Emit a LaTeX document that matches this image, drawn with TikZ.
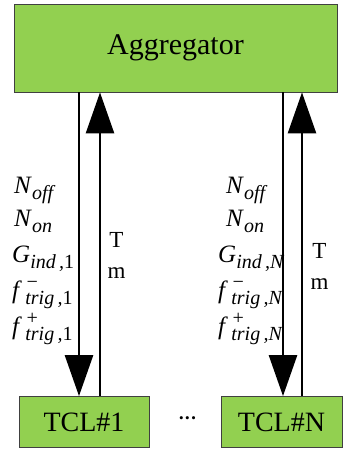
\documentclass[tikz,border=0pt]{standalone}
\usepackage{fontspec}
\setmainfont{Liberation Serif}
\usetikzlibrary{arrows.meta,positioning}
\definecolor{Leaf}{HTML}{92D050}
\definecolor{Edge}{HTML}{404040}
\newcommand{\idx}[1]{{\fontsize{20}{20}\selectfont\itshape#1}}
\newcommand{\sym}[3]{\textit{#1}\rlap{\raisebox{10pt}{\idx{#3}}}\raisebox{-6pt}{\idx{#2}}}
\tikzset{
  unit/.style={draw=Edge,line width=0.8pt,fill=Leaf,inner sep=0pt,text=black},
  link/.style={-{Triangle[length=41pt,width=28pt]},line width=2.6pt},
  signals/.style={align=left,inner sep=0pt,font=\fontsize{25}{33}\selectfont},
  tm/.style={align=center,inner sep=0pt,font=\fontsize{23}{31}\selectfont}
}

\begin{document}
\begin{tikzpicture}[x=1pt,y=-1pt]
  \useasboundingbox (0,0) rectangle (358,450);
  \node[unit,minimum width=323pt,minimum height=88pt,
    font=\fontsize{30}{36}\selectfont] (agg) at (175.5,48) {Aggregator};
  \node[unit,minimum width=130pt,minimum height=51pt,
    font=\fontsize{28}{32}\selectfont] (tcl1) at (84,422) {TCL\#1};
  \node[unit,minimum width=121pt,minimum height=51pt,
    font=\fontsize{28}{32}\selectfont] (tclN) at (281.5,422) {TCL\#N};
  \node[font=\fontsize{13}{16}\selectfont] (dots) at (187.5,420)
    {\textbullet\hspace{1.5pt}\textbullet\hspace{1.5pt}\textbullet};

  \coordinate (down1) at ([xshift=-5pt]tcl1.north);
  \coordinate (up1) at ([xshift=16pt]tcl1.north);
  \coordinate (downN) at ([xshift=1.5pt]tclN.north);
  \coordinate (upN) at ([xshift=20.5pt]tclN.north);
  \draw[link] (down1 |- agg.south) -- (down1);
  \draw[link] (up1) -- (up1 |- agg.south);
  \draw[link] (downN |- agg.south) -- (downN);
  \draw[link] (upN) -- (upN |- agg.south);

  \node[signals,anchor=north west] (sig1) at (12,177) {%
    \hspace{2pt}\sym{N}{off}{}\\[0pt]
    \hspace{2pt}\sym{N}{on}{}\\[3pt]
    \sym{G}{ind\,,\textup{1}}{}\\[3pt]
    \sym{f}{\,trig\,,\textup{1}}{\,\char"2212}\\[3pt]
    \sym{f}{\,trig\,,\textup{1}}{\,+}};
  \node[signals,anchor=north west] (sigN) at (218,177) {%
    \hspace{8pt}\sym{N}{off}{}\\[0pt]
    \hspace{8pt}\sym{N}{on}{}\\[3pt]
    \sym{G}{ind\,,N}{}\\[3pt]
    \sym{f}{\,trig\,,N}{\,\char"2212}\\[3pt]
    \sym{f}{\,trig\,,N}{\,+}};
  \node[tm,anchor=north] (tm1) at (116.5,232) {T\\m};
  \node[tm,anchor=north] (tmN) at (319.5,243) {T\\m};
\end{tikzpicture}
\end{document}
